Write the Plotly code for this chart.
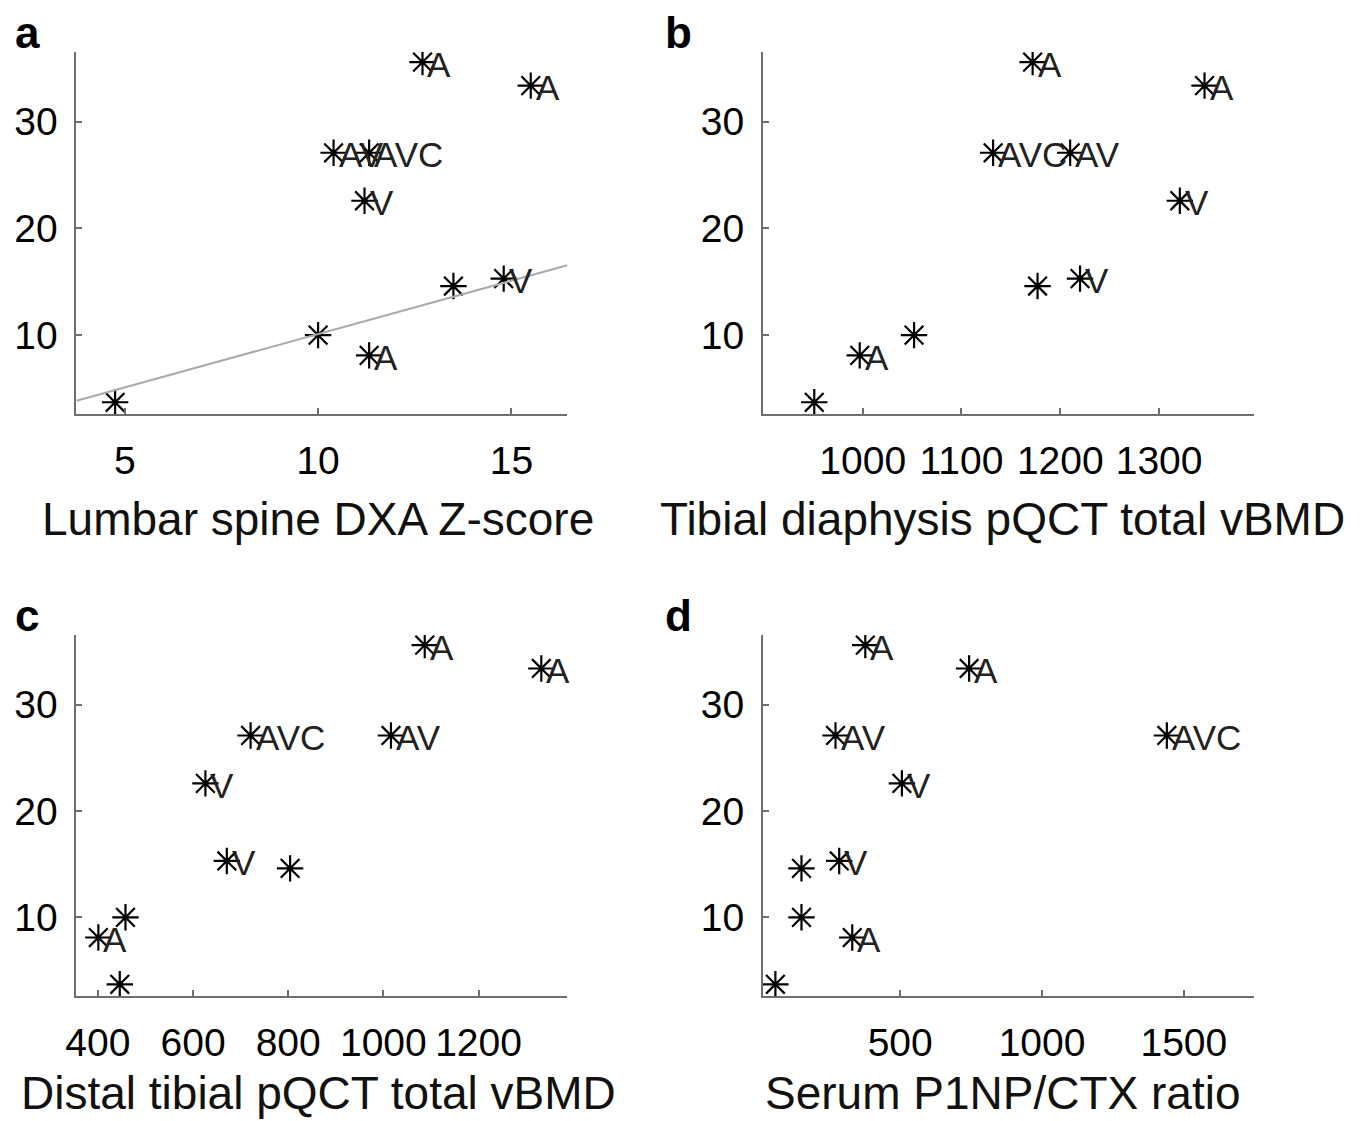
import plotly.graph_objects as go

# ---- data (shared by all panels: one value per patient) ----
y_vals = [35.6, 33.4, 27.1, 27.1, 22.6, 14.6, 15.3, 10.0, 8.1, 3.7]
point_labels = ["A", "A", "AV", "AVC", "V", "", "V", "", "A", ""]

x_lumbar = [12.70, 15.50, 10.40, 11.32, 11.20, 13.50, 14.80, 10.00, 11.32, 4.75]
x_tibdia = [1172, 1346, 1210, 1132, 1321, 1177, 1220, 1052, 997, 951]
x_distal = [1087, 1332, 1016, 721, 626, 804, 671, 458, 401, 446]
x_p1np = [377, 743, 272, 1440, 506, 152, 285, 152, 331, 60]

# regression line in panel a
fit_slope = 1.0
fit_intercept = 0.1

panel_letters = ["a", "b", "c", "d"]
x_titles = ["Lumbar spine DXA Z-score", "Tibial diaphysis pQCT total vBMD",
            "Distal tibial pQCT total vBMD", "Serum P1NP/CTX ratio"]
x_tickvals = [[5, 10, 15], [1000, 1100, 1200, 1300],
              [400, 600, 800, 1000, 1200], [500, 1000, 1500]]
y_tickvals = [10, 20, 30]

# ---- layout geometry (screen pixels) ----
W, H = 1368, 1121
FONT = "Liberation Sans, Arial, sans-serif"
x_ranges = [[3.75, 16.45], [899, 1396], [355, 1387], [16, 1747]]
y_range = [2.6, 36.55]
px_x = [(66, 561), (758, 1253), (66, 561), (758, 1253)]
px_y = [(52, 414), (52, 414), (635, 996), (635, 996)]
letter_pos = [(2, 32), (657, 32), (2, 615), (657, 615)]
title_cx = [309, 1000, 310, 1000]
title_y = [519, 519, None, None]   # None -> sit on the bottom edge

def fx(sx):
    return sx / W


def fy(sy):
    return (H - sy) / H


xs_all = [x_lumbar, x_tibdia, x_distal, x_p1np]

fig = go.Figure()
annotations = []
axis_color = "#6e6e6e"

for i in range(4):
    xa = "x" if i == 0 else f"x{i+1}"
    ya = "y" if i == 0 else f"y{i+1}"
    xs = xs_all[i]
    fig.add_trace(go.Scatter(
        x=xs, y=y_vals, mode="markers", xaxis=xa, yaxis=ya,
        marker=dict(symbol="asterisk-open", size=22, color="black",
                    line=dict(color="black", width=2.2)),
        showlegend=False, hoverinfo="skip"))
    for xv, yv, lab in zip(xs, y_vals, point_labels):
        if lab:
            annotations.append(dict(
                x=xv, y=yv, xref=xa, yref=ya, text=lab, showarrow=False,
                xanchor="left", yanchor="middle", xshift=3, yshift=-2,
                font=dict(family=FONT, size=35, color="#222222")))
    x0, x1 = px_x[i]
    y0, y1 = px_y[i]
    xkey = "xaxis" if i == 0 else f"xaxis{i+1}"
    ykey = "yaxis" if i == 0 else f"yaxis{i+1}"
    fig.update_layout(**{
        xkey: dict(domain=[fx(x0), fx(x1)], range=x_ranges[i], anchor=ya,
                   showgrid=False, zeroline=False, showline=True,
                   linecolor=axis_color, linewidth=2, ticks="inside",
                   ticklen=6, tickwidth=1.5, tickcolor=axis_color,
                   tickvals=x_tickvals[i], ticklabelstandoff=11,
                   tickfont=dict(family=FONT, size=39, color="black")),
        ykey: dict(domain=[fy(y1), fy(y0)], range=y_range, anchor=xa,
                   showgrid=False, zeroline=False, showline=True,
                   linecolor=axis_color, linewidth=2, ticks="inside",
                   ticklen=6, tickwidth=1.5, tickcolor=axis_color,
                   tickvals=y_tickvals, ticklabelstandoff=9,
                   tickfont=dict(family=FONT, size=39, color="black")),
    })
    lx, ly = letter_pos[i]
    annotations.append(dict(
        x=fx(lx), y=fy(ly), xref="paper", yref="paper",
        text=f"<b>{panel_letters[i]}</b>", showarrow=False,
        xanchor="left", yanchor="middle",
        font=dict(family=FONT, size=44, color="black")))
    if title_y[i] is None:
        ty, tanchor = 0, "bottom"
    else:
        ty, tanchor = fy(title_y[i]), "middle"
    annotations.append(dict(
        x=fx(title_cx[i]), y=ty, xref="paper", yref="paper",
        text=x_titles[i], showarrow=False, xanchor="center", yanchor=tanchor,
        font=dict(family=FONT, size=46, color="#111111")))

# regression line in panel a, computed over the axis range
lx_vals = x_ranges[0]
ly_vals = [fit_slope * v + fit_intercept for v in lx_vals]
fig.add_trace(go.Scatter(x=lx_vals, y=ly_vals, mode="lines", xaxis="x", yaxis="y",
                         line=dict(color="#aaaaaa", width=2),
                         showlegend=False, hoverinfo="skip"))

fig.update_layout(width=W, height=H, margin=dict(l=0, r=0, t=0, b=0),
                  paper_bgcolor="white", plot_bgcolor="white",
                  annotations=annotations, showlegend=False)

fig.write_html("out.html", config={"displayModeBar": False},
               post_script="document.body.style.margin='0';"
                           "document.body.style.overflow='hidden';")
